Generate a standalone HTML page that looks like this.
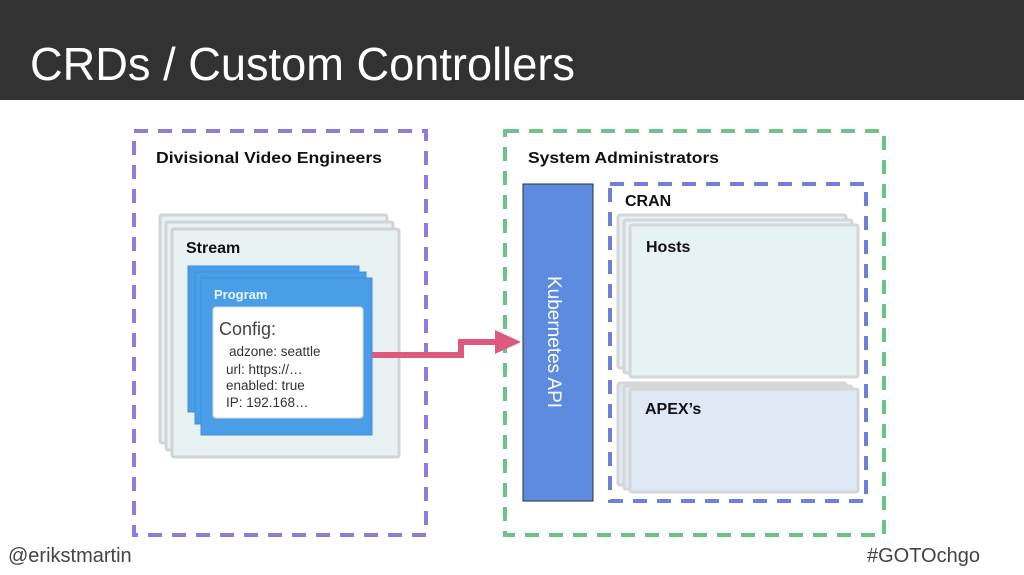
<!DOCTYPE html>
<html><head><meta charset="utf-8"><style>
html,body{margin:0;padding:0;background:#fff;}
svg{display:block;font-family:"Liberation Sans",sans-serif;}
</style></head><body>
<svg width="1024" height="575" viewBox="0 0 1024 575" xmlns="http://www.w3.org/2000/svg">
<rect x="0" y="0" width="1024" height="100" fill="#323232"/>
<text x="30" y="80" font-size="46" fill="#fff" textLength="545" lengthAdjust="spacingAndGlyphs">CRDs / Custom Controllers</text>

<rect x="134" y="131" width="292" height="404" fill="none" stroke="#8a7ddc" stroke-width="4" stroke-dasharray="14,10"/>
<rect x="505" y="131" width="379" height="404" fill="none" stroke="#6cc487" stroke-width="4" stroke-dasharray="14,10"/>
<text x="156" y="163" font-size="16" font-weight="bold" fill="#111" textLength="226" lengthAdjust="spacingAndGlyphs">Divisional Video Engineers</text>
<text x="528" y="163" font-size="16" font-weight="bold" fill="#111" textLength="191" lengthAdjust="spacingAndGlyphs">System Administrators</text>

<g fill="#e8f2f3" stroke="#d0d4d6" stroke-width="3">
<rect x="160" y="215" width="227" height="228" rx="2"/>
<rect x="166" y="222" width="227" height="228" rx="2"/>
<rect x="172" y="229" width="227" height="228" rx="2"/>
</g>
<text x="186" y="253" font-size="16" font-weight="bold" fill="#111">Stream</text>
<g fill="#4a9ee8" stroke="#3b8fdc" stroke-width="1">
<rect x="188" y="266" width="171" height="146"/>
<rect x="195" y="272" width="171" height="152"/>
<rect x="201" y="278" width="171" height="157"/>
</g>
<text x="214" y="299" font-size="13" font-weight="bold" fill="#e8f4ff">Program</text>
<rect x="213" y="307" width="150" height="111" rx="3" fill="#fff" stroke="#d8d8d8"/>
<text x="219" y="335" font-size="18" fill="#444">Config:</text>
<g font-size="13.5" fill="#333">
<text x="229" y="356">adzone: seattle</text>
<text x="226" y="374">url: https://…</text>
<text x="226" y="390">enabled: true</text>
<text x="226" y="407">IP: 192.168…</text>
</g>

<polyline points="372,355 461,355 461,342 500,342" fill="none" stroke="#dc5a7e" stroke-width="6"/>
<polygon points="495,330 521,342 495,354" fill="#dc5a7e"/>

<rect x="523" y="184" width="70" height="317" fill="#5e8be0" stroke="#233" stroke-width="1"/>
<text transform="translate(548,342) rotate(90)" text-anchor="middle" font-size="19" fill="#fff">Kubernetes API</text>

<rect x="610" y="184" width="256" height="317" fill="none" stroke="#6f7fdc" stroke-width="4" stroke-dasharray="14,10"/>
<text x="625" y="206" font-size="16" font-weight="bold" fill="#111">CRAN</text>
<g fill="#e6f2f3" stroke="#d4d6d8" stroke-width="3">
<rect x="618" y="215" width="228" height="153" rx="2"/>
<rect x="624" y="220" width="228" height="153" rx="2"/>
<rect x="630" y="225" width="228" height="152" rx="2"/>
</g>
<text x="646" y="252" font-size="16" font-weight="bold" fill="#111">Hosts</text>
<g fill="#dfe9f6" stroke="#d4d6d8" stroke-width="3">
<rect x="618" y="383" width="228" height="102" rx="2"/>
<rect x="624" y="386" width="228" height="103" rx="2"/>
<rect x="630" y="389" width="228" height="103" rx="2"/>
</g>
<text x="645" y="414" font-size="16" font-weight="bold" fill="#111">APEX’s</text>

<text x="8" y="562" font-size="20" fill="#444">@erikstmartin</text>
<text x="980" y="562" font-size="20" fill="#444" text-anchor="end">#GOTOchgo</text>
</svg>
</body></html>
